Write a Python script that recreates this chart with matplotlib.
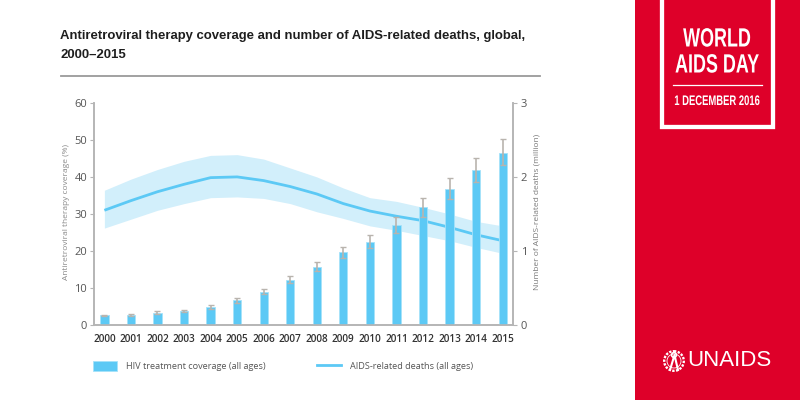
import numpy as np
import matplotlib
matplotlib.use("Agg")
import matplotlib.pyplot as plt
import matplotlib.patheffects as pe
from matplotlib.patches import Rectangle, Circle, Patch
from matplotlib.lines import Line2D
from matplotlib.transforms import Affine2D

years = list(range(2000, 2016))

# treatment coverage, %
coverage = [2.7, 2.9, 3.3, 3.9, 5.0, 6.7, 9.1, 12.2, 15.8, 19.7, 22.4, 27.0, 31.8, 36.7, 41.8, 46.4]
coverage_low = [2.5, 2.6, 3.05, 3.6, 4.5, 6.1, 8.4, 11.3, 14.6, 18.2, 20.9, 25.0, 29.3, 34.1, 38.5, 43.2]
coverage_high = [2.9, 3.1, 3.8, 4.2, 5.5, 7.3, 9.9, 13.4, 17.1, 21.2, 24.3, 29.1, 34.3, 39.7, 45.1, 50.3]

# deaths, million
deaths = [1.55, 1.68, 1.80, 1.90, 1.99, 2.00, 1.95, 1.87, 1.77, 1.64, 1.54, 1.47, 1.41, 1.32, 1.22, 1.14]
deaths_low = [1.31, 1.43, 1.55, 1.64, 1.72, 1.73, 1.71, 1.64, 1.53, 1.44, 1.34, 1.28, 1.21, 1.14, 1.05, 0.97]
deaths_high = [1.82, 1.97, 2.10, 2.21, 2.29, 2.30, 2.24, 2.12, 2.00, 1.85, 1.72, 1.67, 1.59, 1.50, 1.40, 1.34]

blue = "#5CC9F5"
band = "#D2EFFB"
grey = "#B9B4AE"
axis_grey = "#B5B5B5"
red = "#DE0029"
body = ["Open Sans", "DejaVu Sans"]


class Squeeze(pe.AbstractPathEffect):
    # no condensed font installed, so narrow the glyphs around a pixel column
    def __init__(self, sx, cx):
        super().__init__()
        self.sx = sx
        self.cx = cx

    def draw_path(self, renderer, gc, tpath, affine, rgbFace=None):
        squeeze = Affine2D().translate(-self.cx, 0).scale(self.sx, 1).translate(self.cx, 0)
        renderer.draw_path(gc, tpath, affine + squeeze, rgbFace)


fig = plt.figure(figsize=(8, 4), dpi=100, facecolor="white")

# axes box in pixels: x 93.5-513, y 102.7-325.3
ax = fig.add_axes([93.5 / 800, 1 - 325.3 / 400, 419.5 / 800, 222.6 / 400])
ax2 = ax.twinx()
ax.set_zorder(2)
ax2.set_zorder(1)
ax.patch.set_visible(False)

ax2.fill_between(years, deaths_low, deaths_high, color=band, lw=0)
ax2.plot(years, deaths, color=blue, lw=2.0, solid_capstyle="butt")
ax2.set_ylim(0, 3)
ax2.set_yticks([0, 1, 2, 3])

yerr = [np.array(coverage) - np.array(coverage_low), np.array(coverage_high) - np.array(coverage)]
ax.bar(years, coverage, width=0.31, color=blue, edgecolor="#A5E2FA", linewidth=0.6)
ax.errorbar(years, coverage, yerr=yerr, fmt="none", ecolor=grey, elinewidth=1.2, capsize=2.5, capthick=1.0)
ax.set_xlim(1999.59, 2015.39)
ax.set_ylim(0, 60)
ax.set_xticks(years)
ax.set_yticks(range(0, 61, 10))

ax.tick_params(axis="x", length=0, pad=6, labelsize=7.2, labelcolor="#333333")
ax.tick_params(axis="y", length=3, width=0.8, color=axis_grey, pad=1.5, labelsize=8, labelcolor="#555555")
ax2.tick_params(axis="y", length=3, width=0.8, color=axis_grey, pad=2.5, labelsize=8, labelcolor="#555555")
for a in (ax, ax2):
    a.spines["top"].set_visible(False)
    for s in ("left", "right", "bottom"):
        a.spines[s].set_color(axis_grey)
        a.spines[s].set_linewidth(1.2)
    for lab in a.get_xticklabels() + a.get_yticklabels():
        lab.set_family(body)
for lab in ax.get_xticklabels():
    lab.set_fontweight("semibold")

ax.set_ylabel("Antiretroviral therapy coverage (%)", fontsize=6.0, color="#8A8A8A", family=body, labelpad=3.5, y=0.508)
ax2.set_ylabel("Number of AIDS-related deaths (million)", fontsize=6.0, color="#7A7A7A", family=body, labelpad=5, y=0.508)

handles = [Patch(facecolor=blue, edgecolor="#A5E2FA", lw=0.6), Line2D([], [], color=blue, lw=2.0)]
fig.legend(handles, ["HIV treatment coverage (all ages)", "AIDS-related deaths (all ages)"],
           ncol=2, frameon=False, loc="center left", bbox_to_anchor=(84.5 / 800, 1 - 366 / 400),
           prop={"family": body, "size": 6.6}, labelcolor="#555555", handlelength=2.6, handleheight=1.3,
           handletextpad=1.0, columnspacing=5.65, borderpad=0.4)

# page furniture, drawn in pixel coordinates
page = fig.add_axes([0, 0, 1, 1], zorder=5)
page.set_xlim(0, 800)
page.set_ylim(400, 0)
page.axis("off")

page.text(60.5, 36, "Antiretroviral therapy coverage and number of AIDS-related deaths, global,",
          fontsize=9.47, fontweight="bold", family="Liberation Sans", color="#1E1E1E", va="center")
page.text(60.5, 55, "2000\u20132015", fontsize=9.47, fontweight="bold", family="Liberation Sans",
          color="#1E1E1E", va="center")
page.plot([61, 540], [75.5, 75.5], color="#9A9A9A", lw=1.3)

page.add_patch(Rectangle((635, 0), 165, 400, color=red, lw=0))
page.add_patch(Rectangle((662, -4), 111, 131, fill=False, edgecolor="white", lw=3.1))
squeezed = [Squeeze(0.68, 717)]
page.text(717, 39.5, "WORLD", color="white", fontsize=19, fontweight="bold", family="Liberation Sans",
          ha="center", va="center", path_effects=squeezed)
page.text(717, 65.5, "AIDS DAY", color="white", fontsize=19, fontweight="bold", family="Liberation Sans",
          ha="center", va="center", path_effects=squeezed)
page.plot([673, 762], [85, 85], color="white", lw=0.9)
page.text(717, 101, "1 DECEMBER 2016", color="white", fontsize=10, fontweight="bold", family="Liberation Sans",
          ha="center", va="center", path_effects=squeezed)

# UN emblem, simplified
page.add_patch(Circle((674, 361), 9.8, fill=False, edgecolor="white", lw=1.7, ls=(0, (1, 0.6))))
page.add_patch(Circle((674, 361), 7, fill=False, edgecolor="white", lw=0.6))
page.plot([670, 674.5, 678], [370, 355, 370], color="white", lw=1.5)
page.add_patch(Circle((674, 355), 2.4, fill=False, edgecolor="white", lw=1.2))
page.text(687.5, 360.5, "UNAIDS", color="white", fontsize=16, family="Liberation Sans", va="center", ha="left")

fig.savefig("out.png", dpi=100)
